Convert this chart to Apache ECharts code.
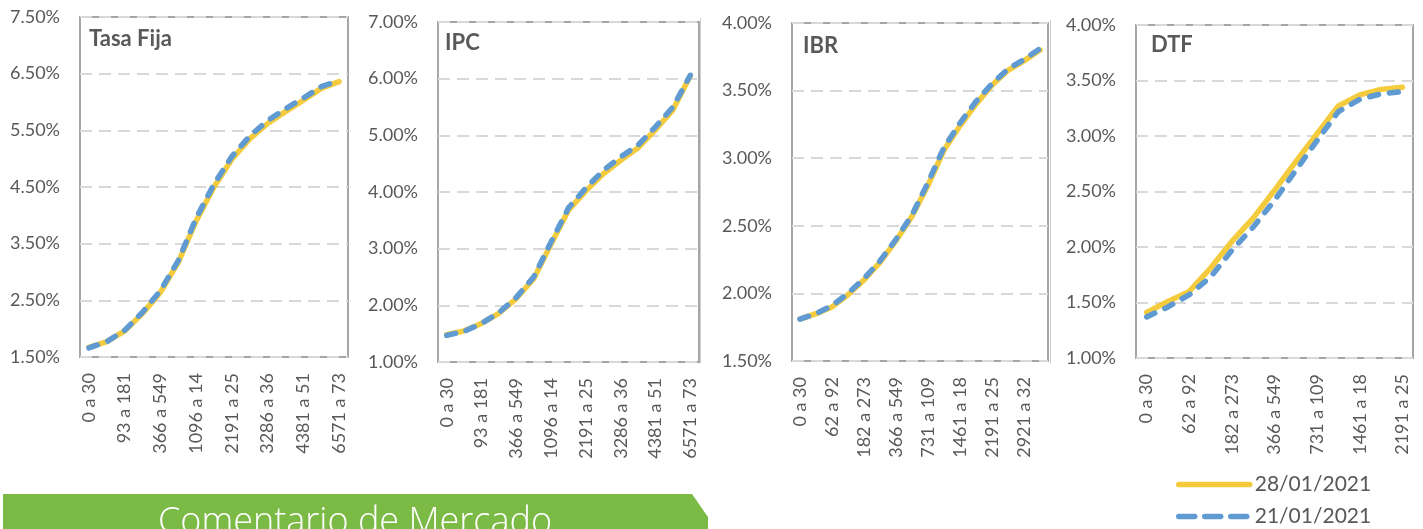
<!DOCTYPE html>
<html>
<head>
<meta charset="utf-8">
<script src="https://cdn.jsdelivr.net/npm/echarts@6/dist/echarts.min.js"></script>
<style>
html,body{margin:0;padding:0;background:#fff;}
#c{width:1423px;height:529px;}
</style>
</head>
<body>
<div id="c"></div>
<script>
// ---- data ----
const tasaCats = ["0 a 30","31 a 92","93 a 181","182 a 365","366 a 549","550 a 109","1096 a 14","1461 a 21","2191 a 25","2556 a 32","3286 a 36","3651 a 43","4381 a 51","5111 a 65","6571 a 73"];
const tasaNew = [1.67,1.77,1.96,2.27,2.64,3.17,3.90,4.50,4.99,5.35,5.62,5.83,6.03,6.24,6.36];
const tasaOld = [1.66,1.77,1.97,2.29,2.67,3.20,3.95,4.55,5.04,5.40,5.67,5.88,6.07,6.27,6.38];

const ipcCats = ["0 a 30","31 a 92","93 a 181","182 a 365","366 a 549","550 a 109","1096 a 14","1461 a 21","2191 a 25","2556 a 32","3286 a 36","3651 a 43","4381 a 51","5111 a 65","6571 a 73"];
const ipcNew = [1.48,1.55,1.68,1.86,2.12,2.47,3.08,3.68,4.02,4.32,4.56,4.78,5.10,5.45,6.05];
const ipcOld = [1.47,1.54,1.68,1.87,2.14,2.50,3.12,3.72,4.07,4.38,4.62,4.83,5.15,5.50,6.06];

const ibrCats = ["0 a 30","31 a 61","62 a 92","93 a 181","182 a 273","274 a 365","366 a 549","550 a 730","731 a 109","1096 a 14","1461 a 18","1826 a 21","2191 a 25","2556 a 29","2921 a 32","3286 a 36"];
const ibrNew = [1.81,1.85,1.90,1.99,2.10,2.23,2.39,2.57,2.80,3.06,3.24,3.40,3.54,3.65,3.72,3.80];
const ibrOld = [1.81,1.85,1.91,2.00,2.11,2.24,2.40,2.58,2.82,3.08,3.26,3.42,3.55,3.66,3.73,3.81];

const dtfCats = ["0 a 30","31 a 61","62 a 92","93 a 181","182 a 273","274 a 365","366 a 549","550 a 730","731 a 109","1096 a 14","1461 a 18","1826 a 21","2191 a 25"];
const dtfNew = [1.41,1.51,1.60,1.81,2.05,2.26,2.51,2.77,3.02,3.27,3.37,3.42,3.44];
const dtfOld = [1.37,1.46,1.57,1.73,1.97,2.18,2.42,2.69,2.96,3.22,3.33,3.38,3.40];

const titles = ["Tasa Fija","IPC","IBR","DTF"];
const seriesNames = ["28/01/2021","21/01/2021"];
const bannerText = "Comentario de Mercado";

// ---- layout / style ----
const FONT = "Lato, 'Open Sans', sans-serif";
const GREY = "#595959";
const YEL = "#F3CB3C";
const BLU = "#5F9AD3";
const LW = 5.5;

const panels = [
  {cats: tasaCats, a: tasaNew, b: tasaOld, min: 1.5, max: 7.5, step: 1.0, grid: {left: 80, top: 17, width: 268, height: 340}, title: {left: 89, top: 28}},
  {cats: ipcCats, a: ipcNew, b: ipcOld, min: 1.0, max: 7.0, step: 1.0, grid: {left: 438, top: 22, width: 261, height: 340}, title: {left: 445, top: 32}},
  {cats: ibrCats, a: ibrNew, b: ibrOld, min: 1.5, max: 4.0, step: 0.5, grid: {left: 792, top: 23, width: 256, height: 338}, title: {left: 803, top: 35}},
  {cats: dtfCats, a: dtfNew, b: dtfOld, min: 1.0, max: 4.0, step: 0.5, grid: {left: 1136, top: 25, width: 277, height: 333}, title: {left: 1151, top: 34}}
];

const option = {
  animation: false,
  backgroundColor: "#fff",
  textStyle: {fontFamily: FONT},
  title: panels.map((p, i) => ({
    text: titles[i], left: p.title.left, top: p.title.top, padding: 0,
    textStyle: {fontFamily: FONT, fontSize: 22, fontWeight: "bold", color: GREY}
  })),
  grid: panels.map(p => Object.assign({show: true, borderColor: "#a6a6a6", borderWidth: 2, backgroundColor: "transparent", containLabel: false}, p.grid)),
  xAxis: panels.map((p, i) => ({
    type: "category", gridIndex: i, data: p.cats, boundaryGap: true,
    axisLine: {show: false}, axisTick: {show: false},
    axisLabel: {interval: 1, rotate: 90, margin: 16, color: GREY, fontSize: 18, fontFamily: FONT}
  })),
  yAxis: panels.map((p, i) => ({
    type: "value", gridIndex: i, min: p.min, max: p.max, interval: p.step,
    axisLine: {show: false}, axisTick: {show: false},
    axisLabel: {margin: 20, color: GREY, fontSize: 18, fontFamily: FONT, formatter: v => v.toFixed(2) + "%"},
    splitLine: {show: true, lineStyle: {color: "#d9d9d9", width: 2, type: [12, 7]}}
  })),
  legend: {
    orient: "vertical", left: 1176, top: 474, height: 60, padding: 0,
    itemWidth: 71, itemHeight: 14, itemGap: 11,
    icon: "inherit",
    itemStyle: {opacity: 0},
    lineStyle: {width: LW, cap: "round"},
    data: [
      {name: seriesNames[0], icon: "inherit", itemStyle: {opacity: 0}, lineStyle: {width: LW, type: "solid", cap: "round"}},
      {name: seriesNames[1], icon: "inherit", itemStyle: {opacity: 0}, lineStyle: {width: LW, type: [16, 10], cap: "round"}}
    ],
    textStyle: {fontFamily: FONT, fontSize: 21, lineHeight: 21, color: GREY}
  },
  series: [],
  graphic: [
    {type: "line", shape: {x1: 700.5, y1: 18, x2: 700.5, y2: 363}, style: {stroke: "#d0d0d0", lineWidth: 1}, silent: true},
    {type: "line", shape: {x1: 1050.5, y1: 20, x2: 1050.5, y2: 363}, style: {stroke: "#d0d0d0", lineWidth: 1}, silent: true},
    {type: "polygon", shape: {points: [[3, 494], [692, 494], [708, 517], [708, 529], [3, 529]]}, style: {fill: "#7CBA46"}, silent: true},
    {type: "text", x: 355, y: 505, style: {text: bannerText, fill: "#fff", font: "300 36px 'Open Sans', Lato, sans-serif", textAlign: "center", textVerticalAlign: "top"}, silent: true}
  ]
};

panels.forEach((p, i) => {
  option.series.push({
    type: "line", name: seriesNames[0], xAxisIndex: i, yAxisIndex: i, data: p.a,
    symbol: "none", smooth: false, z: 2, silent: true,
    itemStyle: {color: YEL},
    lineStyle: {color: YEL, width: LW, cap: "round", join: "round"}
  });
  option.series.push({
    type: "line", name: seriesNames[1], xAxisIndex: i, yAxisIndex: i, data: p.b,
    symbol: "none", smooth: false, z: 3, silent: true,
    itemStyle: {color: BLU},
    lineStyle: {color: BLU, width: LW, type: [9, 11], cap: "round", join: "round"}
  });
});

const chart = echarts.init(document.getElementById("c"), null, {renderer: "canvas"});
chart.setOption(option);
</script>
</body>
</html>
